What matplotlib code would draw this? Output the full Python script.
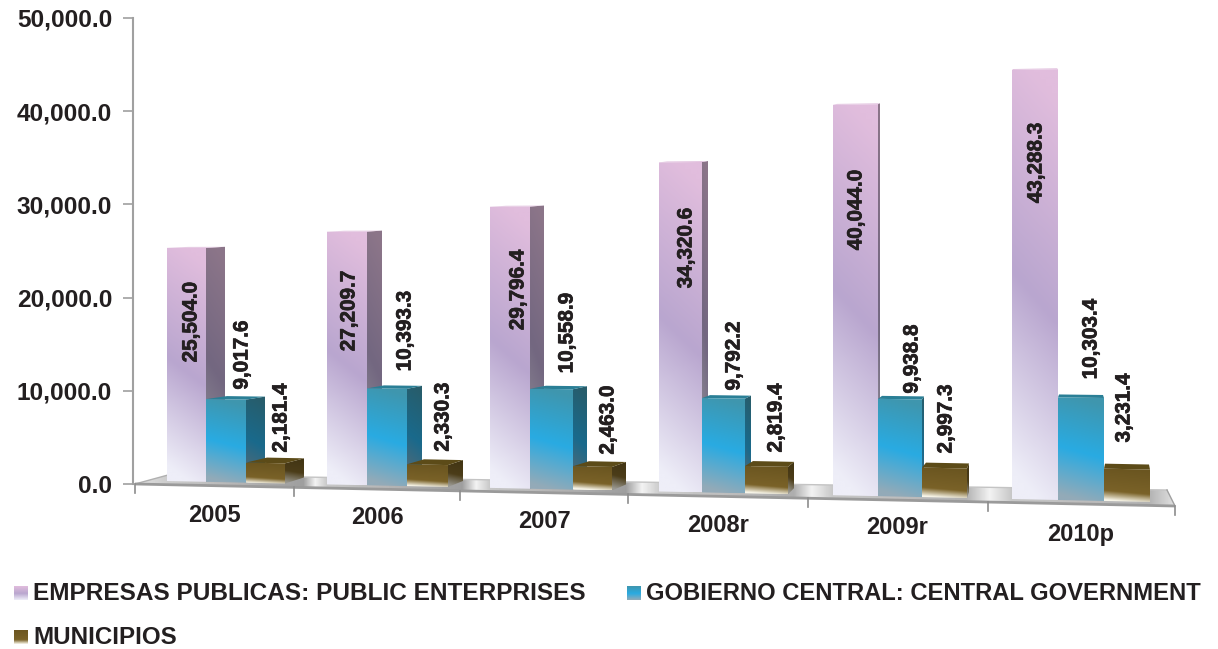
import matplotlib
matplotlib.use('Agg')
from matplotlib import pyplot as plt
from matplotlib import patheffects
from matplotlib.colors import LinearSegmentedColormap, to_rgb
from matplotlib.patches import Polygon
import numpy as np

years = ['2005', '2006', '2007', '2008r', '2009r', '2010p']
empresas = [25504.0, 27209.7, 29796.4, 34320.6, 40044.0, 43288.3]
gobierno = [9017.6, 10393.3, 10558.9, 9792.2, 9938.8, 10303.4]
municipios = [2181.4, 2330.3, 2463.0, 2819.4, 2997.3, 3231.4]
series_names = ['EMPRESAS PUBLICAS: PUBLIC ENTERPRISES',
                'GOBIERNO CENTRAL: CENTRAL GOVERNMENT', 'MUNICIPIOS']
yticks = [0, 10000, 20000, 30000, 40000, 50000]

# layout, in pixels
bar_edges = [[167, 206, 246, 285], [327, 367, 407, 448], [490, 530, 573, 612],
             [659, 702, 745, 788], [833, 878, 922, 967], [1012, 1058, 1104, 1150]]
depths = [19, 15, 14, 6, 2, -1]
rise = [1, 3, 5]
year_pos = [(214, 516), (377, 518), (544, 522), (718, 526), (897, 528), (1081, 534)]
label_pos = [[(191, 322), (349, 311), (518, 290), (686, 248), (856, 210), (1036, 163)],
             [(242, 355), (405, 331), (567, 333), (734, 356), (912, 359), (1091, 339)],
             [(281, 418), (443, 417), (608, 420), (776, 418), (946, 419), (1124, 408)]]
gaps = [135, 167, 303, 315, 327, 462, 476, 490, 626, 642, 659, 794, 812, 833, 967, 990, 1012,
        1150, 1175]
gap_shades = [0.88, 0.8, 0.62, 0.95, 0.78, 0.62, 0.95, 0.78, 0.62, 0.95, 0.8, 0.68, 0.95, 0.78,
              0.7, 0.95, 0.78, 0.7, 0.88]

front = [['#eeeef8', '#b9a6cf', '#e1bddd'],
         ['#93aab8', '#29abe2', '#3f96ae'],
         ['#f8f6ea', '#7a6228', '#6a5520']]
tops = ['#e4c6e1', '#2a7f96', '#5c4b18']
ink = '#231f20'
font = 'Liberation Sans'


def v_of(py):
    return (484 - py) * 50000 / 466


def base_y(x):
    return 481 + (x - 167) * 18 / 845


def gain(x):
    return 0.00914 + (x - 167) * 9.11e-7


def top_y(x, val):
    return base_y(x) - val * gain(x)


def gradient(ax, pts, stops, tilt=0.12, shade=1.0, zorder=2, stop_pos=(0, 0.47, 1)):
    # pts are pixel corners, the picture is clipped to them
    pts = np.array(pts, dtype=float)
    x0, x1 = pts[:, 0].min(), pts[:, 0].max()
    y0, y1 = pts[:, 1].min(), pts[:, 1].max()
    cols = [tuple(c * shade for c in to_rgb(s)) for s in stops]
    cmap = LinearSegmentedColormap.from_list('g', list(zip(stop_pos, cols)))
    yy, xx = np.mgrid[0:1:64j, 0:1:32j]
    t = np.clip(yy + tilt * (xx - 0.5), 0, 1)
    im = ax.imshow(t, extent=(x0, x1, v_of(y1), v_of(y0)), origin='lower', aspect='auto',
                   cmap=cmap, vmin=0, vmax=1, zorder=zorder, interpolation='bilinear')
    clip = Polygon(np.c_[pts[:, 0], v_of(pts[:, 1])], transform=ax.transData)
    im.set_clip_path(clip)


fig = plt.figure(figsize=(12.18, 6.49), dpi=100)
ax = fig.add_axes([0, 0, 1, 1])
ax.patch.set_alpha(0)

# floor
floor = [(168, 475), (135, 484), (1175, 506), (1167, 490)]
shades = np.interp(np.linspace(135, 1175, 1040), gaps, gap_shades)
floor_im = ax.imshow(shades[None, :], extent=(135, 1175, v_of(506), v_of(475)), aspect='auto',
                     cmap='gray', vmin=0, vmax=1, zorder=1)
floor_im.set_clip_path(Polygon(np.c_[[p[0] for p in floor], [v_of(p[1]) for p in floor]],
                               transform=ax.transData))
ax.plot([135, 168], [v_of(484), v_of(475)], color='#b0b0b0', lw=1, zorder=1.5)
ax.plot([168, 1167], [v_of(475), v_of(490)], color='#c4c4c4', lw=1, zorder=1.5)
ax.plot([1167, 1175], [v_of(490), v_of(506)], color='#a0a0a0', lw=1, zorder=1.5)

# bars, back to front inside each year
z = 2
for i, group in enumerate(zip(empresas, gobierno, municipios)):
    edges = bar_edges[i]
    dx = depths[i]
    for s, val in enumerate(group):
        x0, x1 = edges[s], edges[s + 1]
        t0, t1 = top_y(x0, val), top_y(x1, val)
        b0, b1 = base_y(x0), base_y(x1)
        dy = rise[s]
        if dx > 0:
            gradient(ax, [(x1, t1), (x1 + dx, t1 - dy), (x1 + dx, b1 - 6), (x1, b1)],
                     front[s], shade=0.62, zorder=z)
        z += 0.1
        poly = Polygon(np.c_[[x0, x0 + dx + 2, x1 + dx, x1],
                             [v_of(t0), v_of(t0 - dy), v_of(t1 - dy), v_of(t1)]],
                       facecolor=tops[s], edgecolor='none', zorder=z)
        ax.add_patch(poly)
        z += 0.1
        pos = (0, 0.28, 1) if s == 2 else (0, 0.47, 1)
        gradient(ax, [(x0, t0), (x1, t1), (x1, b1), (x0, b0)], front[s], zorder=z, stop_pos=pos)
        z += 0.1

# front edge of the floor and its ticks
ax.plot([135, 1175], [v_of(484), v_of(506)], color='#9a9a9a', lw=2, zorder=50,
        solid_capstyle='butt')
for x in [135, 294, 460, 628, 808, 988, 1175]:
    y = 484 + (x - 135) * 22 / 1040
    ax.plot([x, x], [v_of(y), v_of(y + 9)], color='#8c8c8c', lw=1.2, zorder=50)

# value labels, a thin stroke makes them as heavy as the original
heavy = [patheffects.withStroke(linewidth=0.5, foreground=ink)]
for s, vals in enumerate([empresas, gobierno, municipios]):
    for i, val in enumerate(vals):
        px, py = label_pos[s][i]
        ax.text(px, v_of(py), f'{val:,.1f}', rotation=90, ha='center', va='center',
                family=font, weight='bold', fontsize=14.9, color=ink, zorder=60,
                path_effects=heavy)

# year labels
for name, (px, py) in zip(years, year_pos):
    ax.text(px, v_of(py), name, ha='center', va='center', family=font, weight='bold',
            fontsize=17, color=ink, zorder=60)

# legend
for name, sx, ty, s, size in [(series_names[0], 14, 593, 0, 17.6),
                              (series_names[1], 627, 593, 1, 17.15),
                              (series_names[2], 14, 637, 2, 17.4)]:
    gradient(ax, [(sx, ty - 7), (sx + 14, ty - 7), (sx + 14, ty + 7), (sx, ty + 7)], front[s],
             tilt=0, zorder=60, stop_pos=(0, 0.28, 1) if s == 2 else (0, 0.47, 1))
    ax.text(sx + 19, v_of(ty), name, ha='left', va='center', family=font, weight='bold',
            fontsize=size, color=ink, zorder=60)

# value axis, the only true spine
ax.set_xlim(0, 1218)
ax.set_ylim(v_of(649), v_of(0))
for side in ['top', 'right', 'bottom']:
    ax.spines[side].set_visible(False)
ax.spines['left'].set_position(('data', 133))
ax.spines['left'].set_bounds(0, 50000)
ax.spines['left'].set_color('#a0a0a0')
ax.spines['left'].set_linewidth(1.5)
ax.set_xticks([])
ax.set_yticks(yticks)
ax.set_yticklabels([f'{v:,.1f}' for v in yticks], family=font, weight='bold', fontsize=17.6,
                   color=ink)
ax.tick_params(axis='y', direction='out', length=7, width=1.2, color='#a0a0a0', pad=8)

fig.savefig('out.png', dpi=100)
